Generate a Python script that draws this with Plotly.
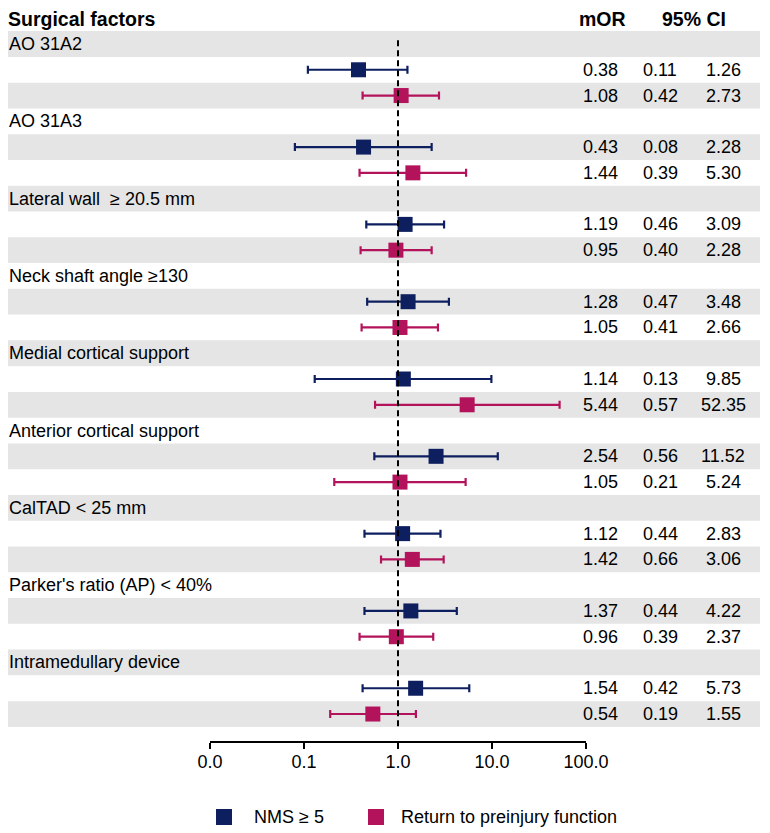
import plotly.graph_objects as go

# forest plot data: surgical factors, two outcomes each
factors = ["AO 31A2", "AO 31A3", "Lateral wall  \u2265 20.5 mm", "Neck shaft angle \u2265130",
           "Medial cortical support", "Anterior cortical support", "CalTAD < 25 mm",
           "Parker's ratio (AP) < 40%", "Intramedullary device"]

nms_or = [0.38, 0.43, 1.19, 1.28, 1.14, 2.54, 1.12, 1.37, 1.54]
nms_lo = [0.11, 0.08, 0.46, 0.47, 0.13, 0.56, 0.44, 0.44, 0.42]
nms_hi = [1.26, 2.28, 3.09, 3.48, 9.85, 11.52, 2.83, 4.22, 5.73]

rpf_or = [1.08, 1.44, 0.95, 1.05, 5.44, 1.05, 1.42, 0.96, 0.54]
rpf_lo = [0.42, 0.39, 0.40, 0.41, 0.57, 0.21, 0.66, 0.39, 0.19]
rpf_hi = [2.73, 5.30, 2.28, 2.66, 52.35, 5.24, 3.06, 2.37, 1.55]

tick_vals = [0.01, 0.1, 1, 10, 100]
tick_text = ["0.0", "0.1", "1.0", "10.0", "100.0"]

NAVY = "#0E1F5F"
PINK = "#B3135B"
FONT = "Liberation Sans, Arial, sans-serif"
OFF = 8  # page body margin, figure is drawn 8px in from the corner
W, H = 770 - OFF, 833 - OFF
ROW_H = 25.77
ROW0 = 44 - OFF  # px centre of first row inside the figure

n_rows = len(factors) * 3
label_rows = [3 * i for i in range(len(factors))]
nms_rows = [3 * i + 1 for i in range(len(factors))]
rpf_rows = [3 * i + 2 for i in range(len(factors))]

series = [
    ("NMS \u2265 5", NAVY, nms_or, nms_lo, nms_hi, nms_rows),
    ("Return to preinjury function", PINK, rpf_or, rpf_lo, rpf_hi, rpf_rows),
]

fig = go.Figure()

for name, color, ors, los, his, rows in series:
    fig.add_trace(go.Scatter(
        x=ors, y=rows, mode="markers", name=name, showlegend=False,
        marker=dict(symbol="square", size=15, color=color),
        error_x=dict(type="data", symmetric=False,
                     array=[h - o for h, o in zip(his, ors)],
                     arrayminus=[o - l for o, l in zip(ors, los)],
                     color=color, thickness=2.2, width=4),
    ))

# helpers: screen pixel -> paper fraction
def px(x):
    return (x - OFF) / W

def py(y):
    return 1 - (y - OFF) / H

# alternating row bands
shapes = []
for r in range(n_rows):
    if r % 2 == 0:
        shapes.append(dict(type="rect", xref="paper", yref="y", x0=px(6), x1=px(760),
                           y0=r - 0.5, y1=r + 0.5, fillcolor="#E5E5E5", line_width=0,
                           layer="below"))
# reference line at OR = 1
shapes.append(dict(type="line", xref="x", yref="y", x0=1, x1=1, y0=-0.15, y1=n_rows - 0.5,
                   line=dict(color="black", width=2, dash="6px,4px"), layer="above"))

ann = []
def txt(x, y, s, anchor="center", bold=False, yref="y", size=18):
    ann.append(dict(x=px(x), y=y, xref="paper", yref=yref, text=f"<b>{s}</b>" if bold else s,
                    showarrow=False, xanchor=anchor, yanchor="middle",
                    font=dict(family=FONT, size=size, color="black")))

txt(6, -0.97, "Surgical factors", "left", True, size=19.5)
txt(602, -0.97, "mOR", bold=True, size=19.5)
txt(694, -0.97, "95% CI", bold=True, size=19.5)
for f, r in zip(factors, label_rows):
    txt(7, r, f, "left")
for name, color, ors, los, his, rows in series:
    for o, l, h, r in zip(ors, los, his, rows):
        txt(600, r, f"{o:.2f}")
        txt(660, r, f"{l:.2f}")
        txt(723, r, f"{h:.2f}")

# legend drawn by hand so positions match
for (name, color, *_), sx, tx in zip(series, [224, 376], [252, 399]):
    shapes.append(dict(type="rect", xref="paper", yref="paper",
                       x0=px(sx - 8), x1=px(sx + 8), y0=py(825), y1=py(809),
                       fillcolor=color, line_width=0))
    txt(tx, py(817), name, "left", yref="paper")

fig.update_layout(
    width=W, height=H, margin=dict(l=0, r=0, t=0, b=0, pad=0, autoexpand=False),
    plot_bgcolor="white", paper_bgcolor="white",
    font=dict(family=FONT, size=18, color="black"),
    shapes=shapes, annotations=ann, showlegend=False,
    xaxis=dict(type="log", range=[-2, 2], domain=[px(210), px(586)],
               anchor="free", position=py(742),
               tickvals=tick_vals, ticktext=tick_text, showgrid=False, zeroline=False,
               showline=True, linecolor="black", linewidth=2,
               ticks="outside", ticklen=6, tickwidth=2, tickcolor="black",
               ticklabelstandoff=-3,
               tickfont=dict(family=FONT, size=18, color="black")),
    yaxis=dict(range=[(H - ROW0) / ROW_H, -ROW0 / ROW_H], domain=[0, 1],
               visible=False, showgrid=False, zeroline=False),
)

fig.write_html("out.html")
